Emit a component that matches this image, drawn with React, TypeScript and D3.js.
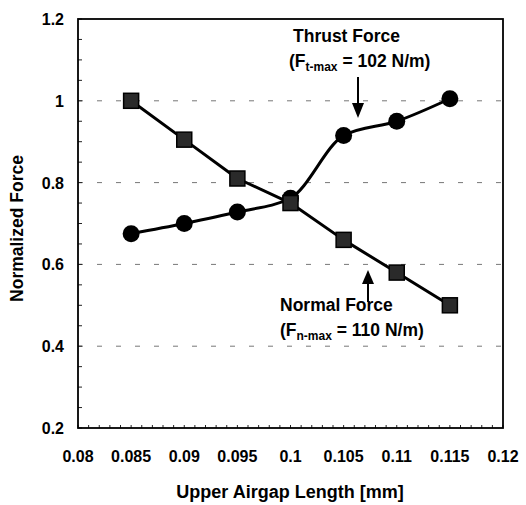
import { useEffect, useRef } from 'react';
import * as d3 from 'd3';

const X_VALUES = [0.085, 0.09, 0.095, 0.1, 0.105, 0.11, 0.115];
const NORMAL_FORCE = [1.0, 0.905, 0.81, 0.75, 0.66, 0.58, 0.5];
const THRUST_FORCE = [0.675, 0.7, 0.728, 0.762, 0.915, 0.95, 1.005];
const X_TICKS = [0.08, 0.085, 0.09, 0.095, 0.1, 0.105, 0.11, 0.115, 0.12];
const Y_TICKS = [0.2, 0.4, 0.6, 0.8, 1, 1.2];
const GRID_Y = [0.4, 0.6, 0.8, 1];

const W = 526;
const H = 505;
const FONT = '"Liberation Sans", Arial, sans-serif';

export default function App() {
  const svgRef = useRef<SVGSVGElement | null>(null);

  useEffect(() => {
    const el = svgRef.current;
    if (!el) return;
    d3.select(el).selectAll('*').remove();
    const svg = d3.select(el);

    const left = 78, right = 503, top = 19, bottom = 428;
    const x = d3.scaleLinear().domain([0.08, 0.12]).range([left, right]);
    const y = d3.scaleLinear().domain([0.2, 1.2]).range([bottom, top]);

    // dashed grid lines
    GRID_Y.forEach((v) => {
      svg.append('line')
        .attr('x1', left).attr('x2', right)
        .attr('y1', y(v)).attr('y2', y(v))
        .attr('stroke', '#777')
        .attr('stroke-width', 1)
        .attr('stroke-dasharray', '5,14');
    });

    // minor ticks, pointing inward
    d3.range(0.2, 1.2001, 0.05).forEach((v) => {
      svg.append('line')
        .attr('x1', left).attr('x2', left + 4)
        .attr('y1', y(v)).attr('y2', y(v))
        .attr('stroke', '#222').attr('stroke-width', 1);
    });
    d3.range(0.08, 0.12001, 0.001).forEach((v) => {
      svg.append('line')
        .attr('x1', x(v)).attr('x2', x(v))
        .attr('y1', bottom).attr('y2', bottom - 3)
        .attr('stroke', '#222').attr('stroke-width', 1);
    });

    // frame
    svg.append('rect')
      .attr('x', left).attr('y', top)
      .attr('width', right - left).attr('height', bottom - top)
      .attr('fill', 'none')
      .attr('stroke', '#000')
      .attr('stroke-width', 1.8);

    // tick labels
    Y_TICKS.forEach((v) => {
      svg.append('text')
        .attr('x', 64).attr('y', y(v) + 6)
        .attr('text-anchor', 'end')
        .attr('font-family', FONT).attr('font-weight', 'bold')
        .attr('font-size', 16)
        .text(d3.format('~g')(v));
    });
    X_TICKS.forEach((v) => {
      svg.append('text')
        .attr('x', x(v)).attr('y', 462)
        .attr('text-anchor', 'middle')
        .attr('font-family', FONT).attr('font-weight', 'bold')
        .attr('font-size', 16)
        .text(d3.format('~g')(v));
    });

    // axis titles
    svg.append('text')
      .attr('transform', `translate(23,${(top + bottom) / 2 + 5}) rotate(-90)`)
      .attr('text-anchor', 'middle')
      .attr('font-family', FONT).attr('font-weight', 'bold')
      .attr('font-size', 17.5)
      .text('Normalized Force');
    svg.append('text')
      .attr('x', 290).attr('y', 498)
      .attr('text-anchor', 'middle')
      .attr('font-family', FONT).attr('font-weight', 'bold')
      .attr('font-size', 18)
      .text('Upper Airgap Length [mm]');

    // series lines: normal is straight segments, thrust is smoothed
    const normalPts: [number, number][] = X_VALUES.map((v, i) => [x(v), y(NORMAL_FORCE[i])]);
    const thrustPts: [number, number][] = X_VALUES.map((v, i) => [x(v), y(THRUST_FORCE[i])]);
    const straight = d3.line();
    const smooth = d3.line().curve(d3.curveMonotoneX);

    svg.append('path').datum(normalPts).attr('d', straight)
      .attr('fill', 'none').attr('stroke', '#000').attr('stroke-width', 3)
      .attr('stroke-linejoin', 'round');
    svg.append('path').datum(thrustPts).attr('d', smooth)
      .attr('fill', 'none').attr('stroke', '#000').attr('stroke-width', 3);

    // markers
    thrustPts.forEach(([px, py]) => {
      svg.append('circle')
        .attr('cx', px).attr('cy', py).attr('r', 8.5)
        .attr('fill', '#000');
    });
    const s = 15;
    normalPts.forEach(([px, py]) => {
      svg.append('rect')
        .attr('x', px - s / 2).attr('y', py - s / 2)
        .attr('width', s).attr('height', s)
        .attr('fill', '#2a2a2a')
        .attr('stroke', '#000').attr('stroke-width', 1.5);
    });

    // annotations
    const title = (tx: number, ty: number, text: string) => {
      svg.append('text')
        .attr('x', tx).attr('y', ty)
        .attr('font-family', FONT).attr('font-weight', 'bold')
        .attr('font-size', 17.5)
        .text(text);
    };
    const maxLabel = (tx: number, ty: number, sub: string, rest: string) => {
      const t = svg.append('text')
        .attr('x', tx).attr('y', ty)
        .attr('font-family', FONT).attr('font-weight', 'bold')
        .attr('font-size', 17.5);
      t.append('tspan').text('(F');
      t.append('tspan').attr('font-size', 12).attr('dy', 4).text(sub);
      t.append('tspan').attr('dy', -4).text(rest);
    };
    title(293, 42, 'Thrust Force');
    maxLabel(289, 67, 't-max', ' = 102 N/m)');
    title(280, 311, 'Normal Force');
    maxLabel(280, 336, 'n-max', ' = 110 N/m)');

    // arrows
    svg.append('line')
      .attr('x1', 358).attr('x2', 358).attr('y1', 77).attr('y2', 104)
      .attr('stroke', '#000').attr('stroke-width', 2);
    svg.append('path')
      .attr('d', 'M352,103 L364,103 L358,118 Z')
      .attr('fill', '#000');
    svg.append('line')
      .attr('x1', 368).attr('x2', 368).attr('y1', 302).attr('y2', 283)
      .attr('stroke', '#000').attr('stroke-width', 2);
    svg.append('path')
      .attr('d', 'M362,284 L374,284 L368,270 Z')
      .attr('fill', '#000');
  }, []);

  return (
    <svg
      ref={svgRef}
      width={W}
      height={H}
      style={{ position: 'absolute', left: 0, top: 0, background: '#fff' }}
    />
  );
}
